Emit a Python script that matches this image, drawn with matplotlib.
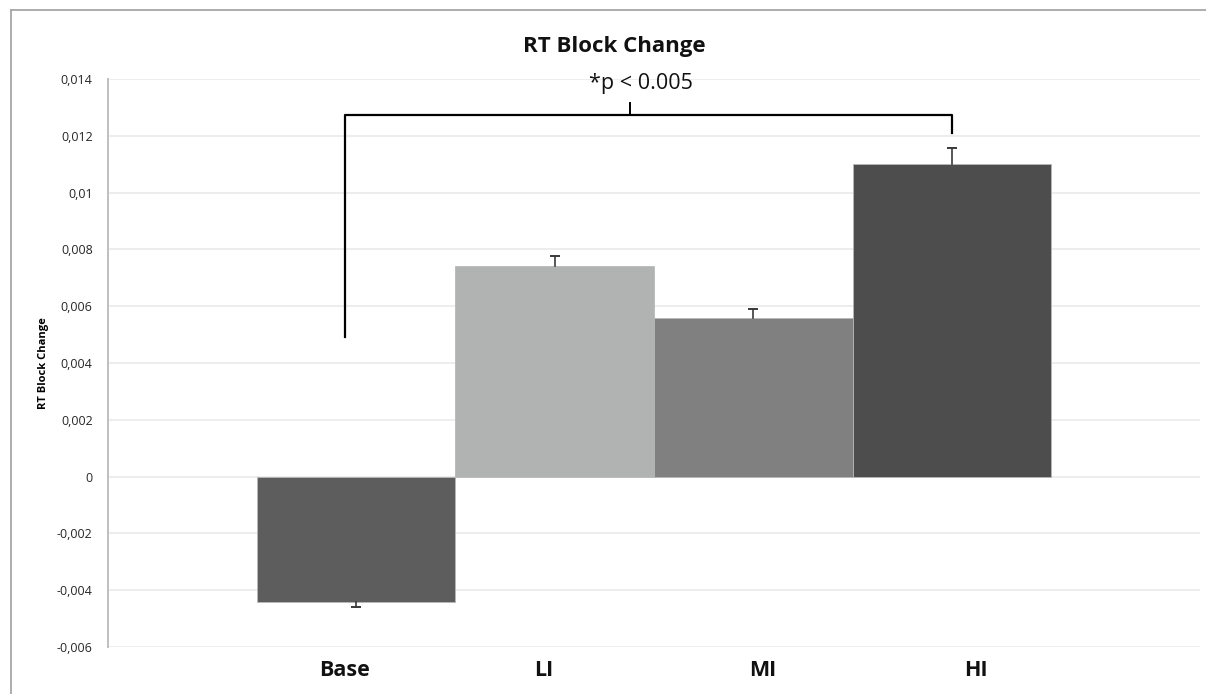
import matplotlib
matplotlib.use("Agg")
import matplotlib.pyplot as plt
from matplotlib.lines import Line2D

# data
groups = ['Base', 'LI', 'MI', 'HI']
rt_change = [-0.0044, 0.00743, 0.0056, 0.01102]
rt_err = [0.0002, 0.00035, 0.0003, 0.00056]
bar_colors = ['#5d5d5d', '#b1b3b3', '#808080', '#4d4d4d']
yticks = [-0.006, -0.004, -0.002, 0, 0.002, 0.004, 0.006, 0.008, 0.01, 0.012, 0.014]
ytick_labels = ['-0,006', '-0,004', '-0,002', '0', '0,002', '0,004', '0,006',
                '0,008', '0,01', '0,012', '0,014']
sig_text = '*p < 0.005'

plt.rcParams['font.family'] = ['Open Sans', 'DejaVu Sans']

fig = plt.figure(figsize=(12.06, 6.94), dpi=100)
ax = fig.add_axes([108 / 1206, 1 - 647 / 694, (1200 - 108) / 1206, (647 - 79) / 694])

x = list(range(len(groups)))
ax.bar(x, rt_change, width=1.0, color=bar_colors, edgecolor='#b8b8b8',
       linewidth=0.6, zorder=2)

# one-sided error bars (away from zero), cap only on the outer end
for xi, v, e in zip(x, rt_change, rt_err):
    tip = v - e if v < 0 else v + e
    ax.plot([xi, xi], [v, tip], color='#3a3a3a', linewidth=1.2, zorder=3)
    ax.plot([xi], [tip], marker='_', markersize=7, markeredgewidth=1.4,
            color='#3a3a3a', zorder=3)

ax.set_xlim(-1.25, 4.25)
ax.set_ylim(-0.006, 0.014)
ax.set_yticks(yticks)
ax.set_yticklabels(ytick_labels, fontsize=9, color='#262626')
ax.tick_params(axis='y', length=0, pad=11)
ax.yaxis.grid(True, color='#ececec', linewidth=1.3, zorder=0)
ax.set_axisbelow(True)

# category labels (placed as in the original, a bit off the bar centres)
label_pos = [-0.06, 0.945, 2.05, 3.12]
ax.set_xticks(label_pos)
ax.set_xticklabels(groups, fontsize=15.5, fontweight='bold', color='#111111')
ax.tick_params(axis='x', length=0, pad=9)

for s in ['top', 'right', 'bottom']:
    ax.spines[s].set_visible(False)
ax.spines['left'].set_color('#bfbfbf')
ax.spines['left'].set_linewidth(1.4)

ax.set_ylabel('RT Block Change', fontsize=8, fontweight='bold', labelpad=6)

# significance bracket between Base and HI
br_y = 0.01275
ax.plot([-0.054, -0.054, 3.0, 3.0], [0.00493, br_y, br_y, 0.01211],
        color='black', linewidth=1.6, zorder=4, clip_on=False)
ax.plot([1.378, 1.378], [br_y, 0.01317], color='black', linewidth=1.4,
        zorder=4, clip_on=False)
ax.text(1.433, 0.01365, sig_text, fontsize=15.5, ha='center', va='baseline',
        color='#111111', clip_on=False)

fig.text(614 / 1206, 1 - 52 / 694, 'RT Block Change', fontsize=16,
         fontweight='bold', ha='center', va='baseline', color='#111111')

# chart area border (left and top edges visible)
fig.add_artist(Line2D([11 / 1206, 11 / 1206], [0, 1 - 10 / 694],
                      color='#a6a6a6', linewidth=1.3))
fig.add_artist(Line2D([11 / 1206, 1], [1 - 10 / 694, 1 - 10 / 694],
                      color='#a6a6a6', linewidth=1.3))

fig.savefig('out.png', dpi=100)
